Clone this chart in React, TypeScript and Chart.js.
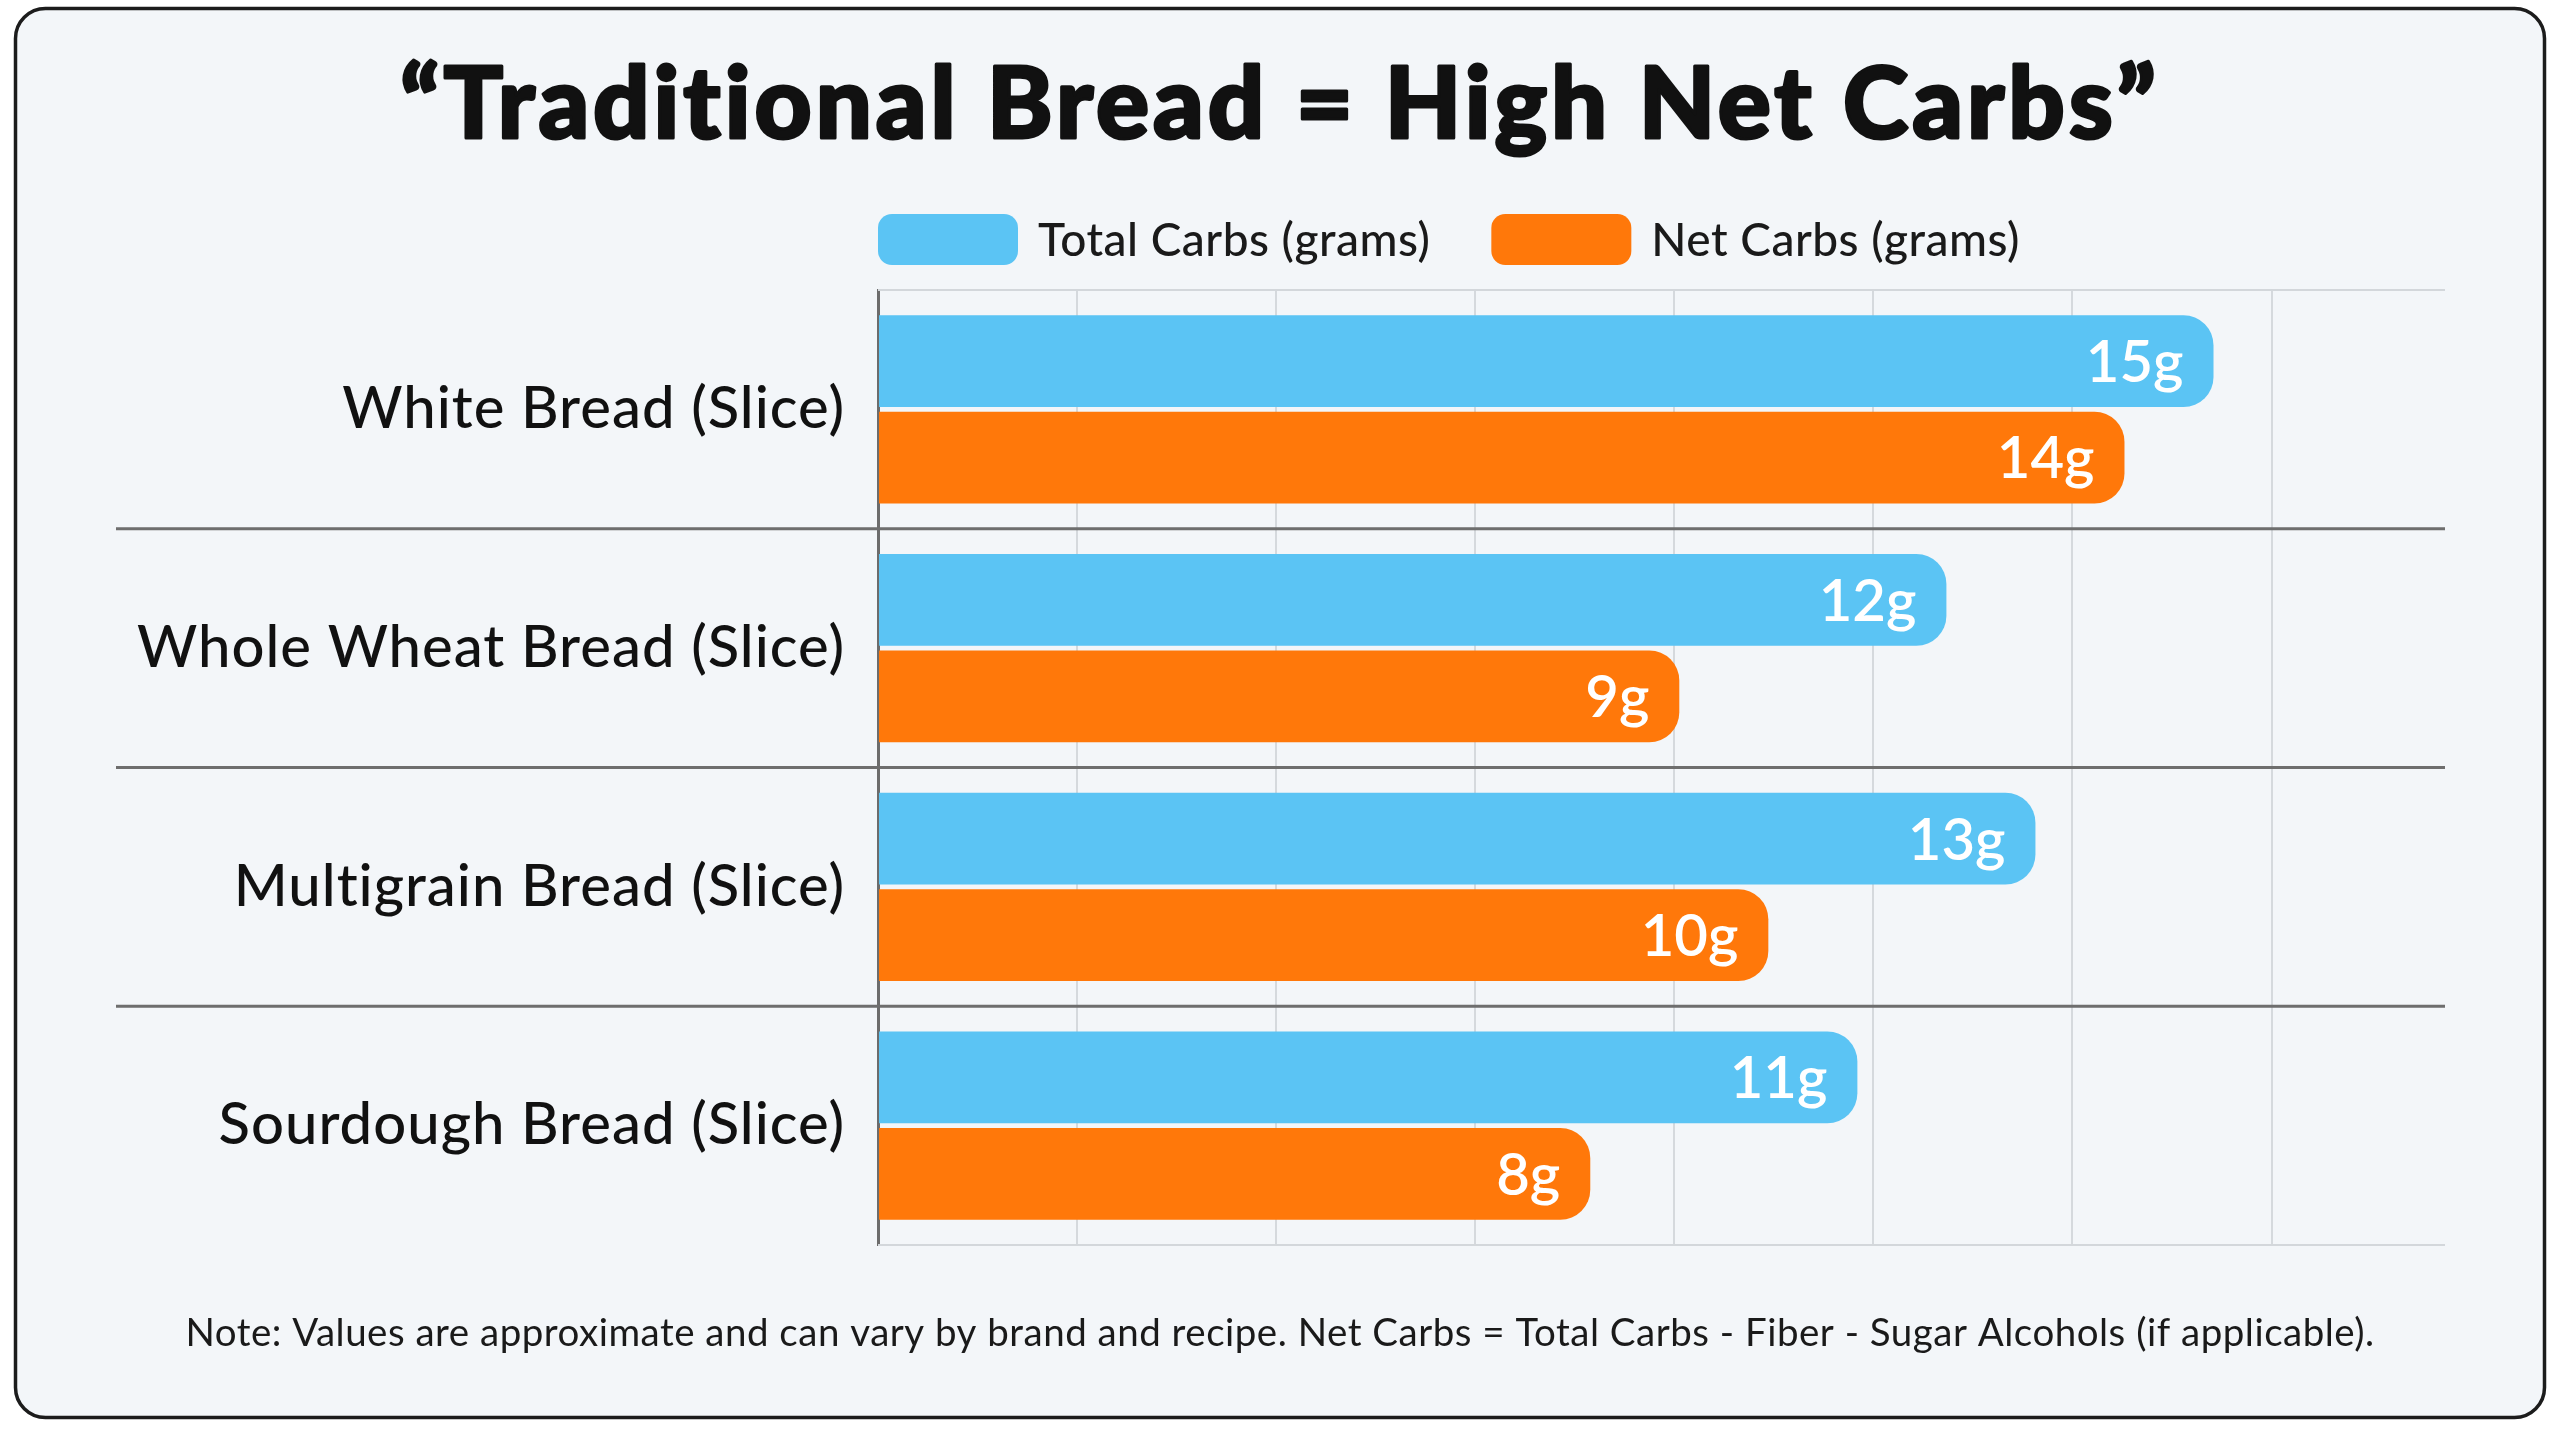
import React, { useEffect, useRef } from "react";
import { Chart, registerables } from "chart.js";

Chart.register(...registerables);

const TITLE = "\u201CTraditional Bread = High Net Carbs\u201D";
const NOTE =
  "Note: Values are approximate and can vary by brand and recipe. Net Carbs = Total Carbs - Fiber - Sugar Alcohols (if applicable).";
const CATEGORIES = [
  "White Bread (Slice)",
  "Whole Wheat Bread (Slice)",
  "Multigrain Bread (Slice)",
  "Sourdough Bread (Slice)",
];
const SERIES_NAMES = ["Total Carbs (grams)", "Net Carbs (grams)"];
const TOTAL_CARBS = [15, 12, 13, 11];
const NET_CARBS = [14, 9, 10, 8];
const UNIT = "g";
const X_MAX = 17.6;
const GRID_STEP = 2.236;

const BLUE = "#5BC4F4";
const ORANGE = "#FF780A";
const FONT = "Lato, 'Noto Sans', sans-serif";
const W = 2560;
const H = 1429;

const gridValues = (): number[] => {
  const out: number[] = [];
  for (let k = 0; k * GRID_STEP < X_MAX; k++) out.push(k * GRID_STEP);
  return out;
};

const framePlugin = {
  id: "frame",
  beforeDraw(chart: any) {
    const ctx = chart.ctx;
    ctx.save();
    ctx.fillStyle = "#ffffff";
    ctx.fillRect(0, 0, W, H);
    ctx.beginPath();
    ctx.roundRect(15.5, 8.5, 2529, 1409, 30);
    ctx.fillStyle = "#F3F6F9";
    ctx.fill();
    ctx.lineWidth = 3.5;
    ctx.strokeStyle = "#1c1c1c";
    ctx.stroke();
    ctx.restore();
    ctx.letterSpacing = "1px";
  },
  beforeDatasetsDraw(chart: any) {
    const ctx = chart.ctx;
    const area = chart.chartArea;
    const y = chart.scales.y;
    const n = CATEGORIES.length;
    ctx.save();
    ctx.strokeStyle = "#D3D7DB";
    ctx.lineWidth = 2;
    ctx.beginPath();
    ctx.moveTo(area.left, area.top);
    ctx.lineTo(area.right, area.top);
    ctx.moveTo(area.left, area.bottom);
    ctx.lineTo(area.right, area.bottom);
    ctx.stroke();
    ctx.strokeStyle = "#6E6E6E";
    ctx.lineWidth = 3;
    ctx.beginPath();
    for (let i = 0; i < n - 1; i++) {
      const py = (y.getPixelForValue(i) + y.getPixelForValue(i + 1)) / 2;
      ctx.moveTo(116, py);
      ctx.lineTo(area.right, py);
    }
    ctx.stroke();
    ctx.restore();
  },
  afterDatasetsDraw(chart: any) {
    const ctx = chart.ctx;
    ctx.save();
    const size = 58;
    ctx.letterSpacing = "0px";
    ctx.font = `600 ${size}px ${FONT}`;
    ctx.fillStyle = "#ffffff";
    ctx.textAlign = "right";
    ctx.textBaseline = "alphabetic";
    chart.data.datasets.forEach((ds: any, i: number) => {
      const meta = chart.getDatasetMeta(i);
      meta.data.forEach((bar: any, j: number) => {
        ctx.fillText(`${ds.data[j]}${UNIT}`, bar.x - 30, bar.y + size * 0.36);
      });
    });
    ctx.restore();
  },
  afterDraw(chart: any) {
    const ctx = chart.ctx;
    const area = chart.chartArea;
    ctx.save();
    ctx.fillStyle = "#111111";
    ctx.strokeStyle = "#111111";
    ctx.lineWidth = 3;
    ctx.lineJoin = "round";
    ctx.textAlign = "center";
    ctx.textBaseline = "alphabetic";
    ctx.letterSpacing = "4px";
    ctx.font = `900 99px ${FONT}`;
    ctx.fillText(TITLE, W / 2, 138);
    ctx.strokeText(TITLE, W / 2, 138);
    let x = area.left;
    ctx.textAlign = "left";
    ctx.letterSpacing = "0.5px";
    ctx.font = `500 46px ${FONT}`;
    chart.data.datasets.forEach((ds: any) => {
      ctx.beginPath();
      ctx.roundRect(x, 214, 140, 51, 14);
      ctx.fillStyle = ds.backgroundColor;
      ctx.fill();
      x += 140 + 20;
      ctx.fillStyle = "#1a1a1a";
      ctx.fillText(ds.label, x, 256);
      x += ctx.measureText(ds.label).width + 61;
    });
    ctx.textAlign = "center";
    ctx.letterSpacing = "0.5px";
    ctx.font = `400 38.5px ${FONT}`;
    ctx.fillStyle = "#1a1a1a";
    ctx.fillText(NOTE, W / 2, 1346);
    ctx.restore();
  },
};

export default function App() {
  const ref = useRef<HTMLCanvasElement | null>(null);
  useEffect(() => {
    if (!ref.current) return;
    const chart = new Chart(ref.current, {
      type: "bar",
      data: {
        labels: CATEGORIES,
        datasets: [
          {
            label: SERIES_NAMES[0],
            data: TOTAL_CARBS,
            backgroundColor: BLUE,
            borderRadius: 30,
            borderSkipped: "start",
            categoryPercentage: 0.808,
            barPercentage: 0.953,
          },
          {
            label: SERIES_NAMES[1],
            data: NET_CARBS,
            backgroundColor: ORANGE,
            borderRadius: 30,
            borderSkipped: "start",
            categoryPercentage: 0.808,
            barPercentage: 0.953,
          },
        ],
      },
      options: {
        indexAxis: "y",
        responsive: false,
        devicePixelRatio: 1,
        animation: false,
        events: [],
        layout: { padding: { left: 0, right: 115, top: 290, bottom: 184 } },
        plugins: {
          legend: { display: false },
          title: { display: false },
          tooltip: { enabled: false },
        },
        scales: {
          x: {
            min: 0,
            max: X_MAX,
            afterBuildTicks: (s: any) => {
              s.ticks = gridValues().map((v) => ({ value: v }));
            },
            afterFit: (s: any) => {
              s.height = 0;
            },
            ticks: { display: false },
            grid: { color: "#D5D9DD", lineWidth: 2, drawTicks: false },
            border: { display: false },
          },
          y: {
            afterFit: (s: any) => {
              s.width = 878;
            },
            grid: { display: false, drawTicks: false },
            border: { display: true, color: "#6C6C6C", width: 3 },
            ticks: {
              padding: 33,
              color: "#111111",
              font: { family: FONT, size: 58, weight: "500" },
            },
          },
        },
      } as any,
      plugins: [framePlugin],
    });
    return () => chart.destroy();
  }, []);
  return (
    <div style={{ position: "fixed", left: 0, top: 0, width: W, height: H }}>
      <canvas ref={ref} width={W} height={H} style={{ width: W, height: H, display: "block" }} />
    </div>
  );
}
